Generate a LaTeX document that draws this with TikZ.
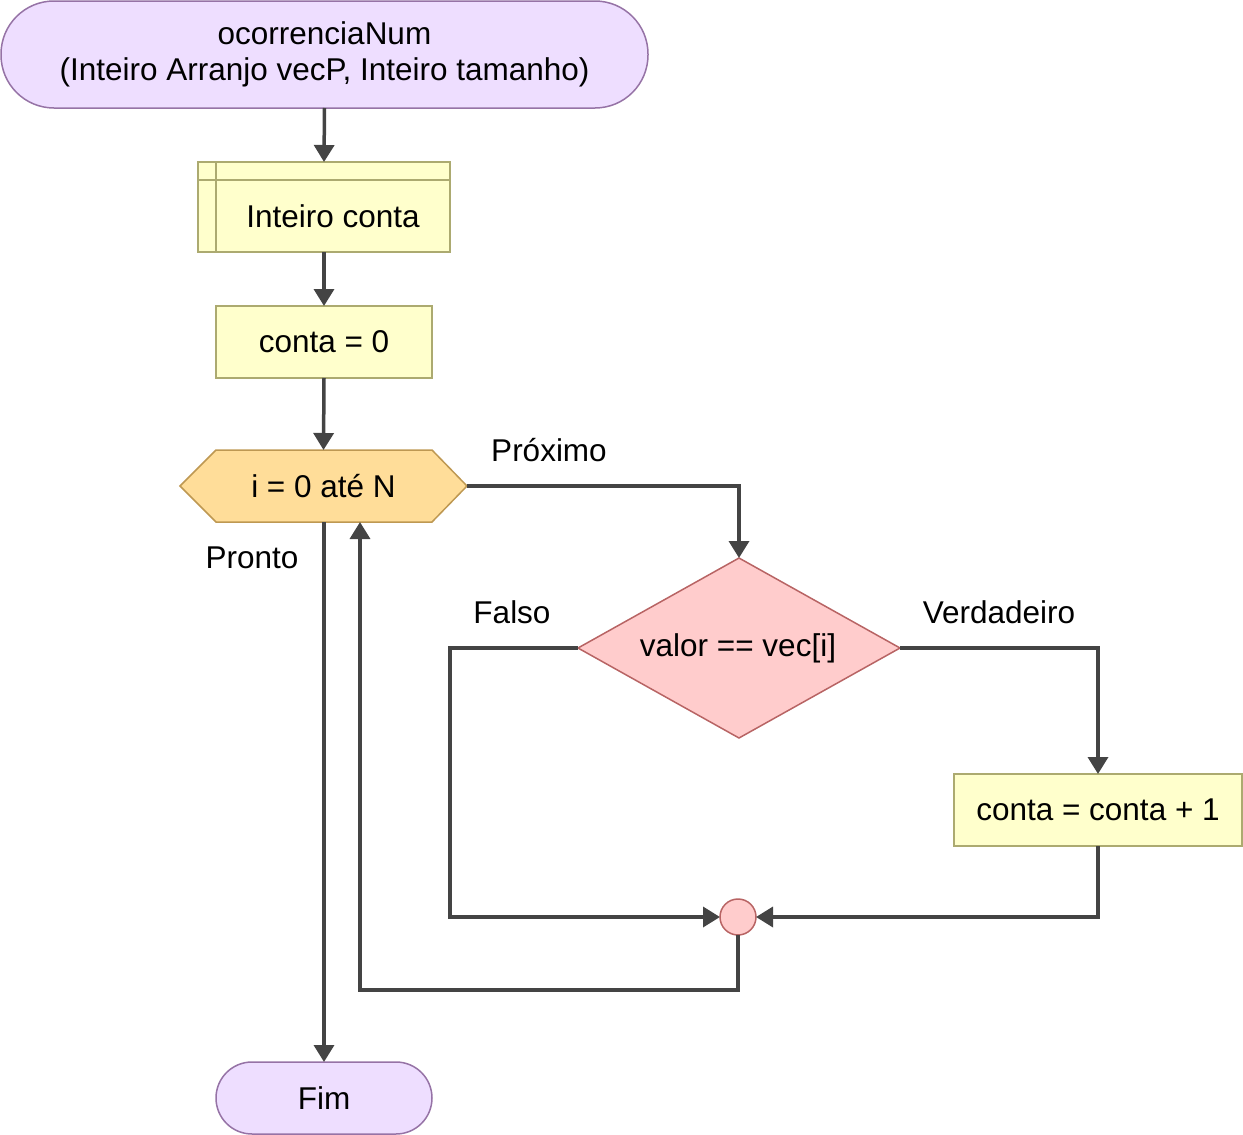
\documentclass[tikz,border=0pt]{standalone}
\usepackage{fontspec}
\setmainfont{Liberation Sans}
\usetikzlibrary{arrows.meta}
\definecolor{lav}{RGB}{238,222,255}
\definecolor{lavd}{RGB}{150,115,166}
\definecolor{ylw}{RGB}{255,255,204}
\definecolor{ylwd}{RGB}{172,170,112}
\definecolor{org}{RGB}{255,221,153}
\definecolor{orgd}{RGB}{190,152,82}
\definecolor{pnk}{RGB}{255,204,204}
\definecolor{pnkd}{RGB}{184,100,100}
\definecolor{ln}{RGB}{68,68,68}
\begin{document}
\begin{tikzpicture}[x=1pt,y=-1pt,
  every node/.style={font=\fontsize{31.5}{36}\selectfont, inner sep=0pt, outer sep=0pt},
  term/.style={draw=lavd, fill=lav, line width=1.5pt, rectangle},
  proc/.style={draw=ylwd, fill=ylw, line width=1.5pt, rectangle},
  conn/.style={draw=ln, line width=3.5pt, -{Triangle[length=17pt,width=20pt]}},
  lbl/.style={text=black}]
\useasboundingbox (0,0) rectangle (1243,1135);
% nodes
\node[term, rounded corners=53pt, minimum width=647pt, minimum height=107pt, align=center] (start) at (324.5,54.5) {ocorrenciaNum\\(Inteiro Arranjo vecP, Inteiro tamanho)};
\node[proc, minimum width=252pt, minimum height=90pt] (decl) at (324,207) {};
\draw[ylwd, line width=1.5pt] (198,180) -- (450,180) (216,162) -- (216,252);
\node at (333,216) {Inteiro conta};
\node[proc, minimum width=216pt, minimum height=72pt] (init) at (324,342) {conta = 0};
\node[minimum width=287pt, minimum height=72pt] (loop) at (323.5,486) {};
\draw[draw=orgd, fill=org, line width=1.5pt] (180,486) -- (216,450) -- (432,450) -- (467,486) -- (432,522) -- (216,522) -- cycle;
\node at (323.5,486) {i = 0 até N};
\node[minimum width=322pt, minimum height=180pt] (dec) at (739,648) {};
\draw[draw=pnkd, fill=pnk, line width=1.5pt] (dec.west) -- (dec.north) -- (dec.east) -- (dec.south) -- cycle;
\node at (738,648) {valor == vec[i]};
\node[proc, minimum width=288pt, minimum height=72pt] (inc) at (1098,810) {conta = conta + 1};
\node[circle, draw=pnkd, fill=pnk, line width=1.5pt, minimum size=36pt] (merge) at (738,917) {};
\node[term, rounded corners=36pt, minimum width=216pt, minimum height=72pt] (fim) at (324,1098) {Fim};
% connectors
\draw[conn] (start.south) -- (decl.north);
\draw[conn] (decl.south) -- (init.north);
\draw[conn] (init.south) -- (loop.north);
\draw[conn] (loop.east) -| (dec.north);
\draw[conn] (324,522) -- (fim.north);
\draw[conn] (dec.east) -| (inc.north);
\draw[conn] (dec.west) -- (450,648) |- (merge.west);
\draw[conn] (inc.south) |- (merge.east);
\draw[conn] (merge.south) -- (738,990) -- (360,990) -- (360,522);
% labels
\node[lbl] at (549,450) {Próximo};
\node[lbl] at (252,558) {Pronto};
\node[lbl] at (512,612) {Falso};
\node[lbl] at (999,612) {Verdadeiro};
\end{tikzpicture}
\end{document}
